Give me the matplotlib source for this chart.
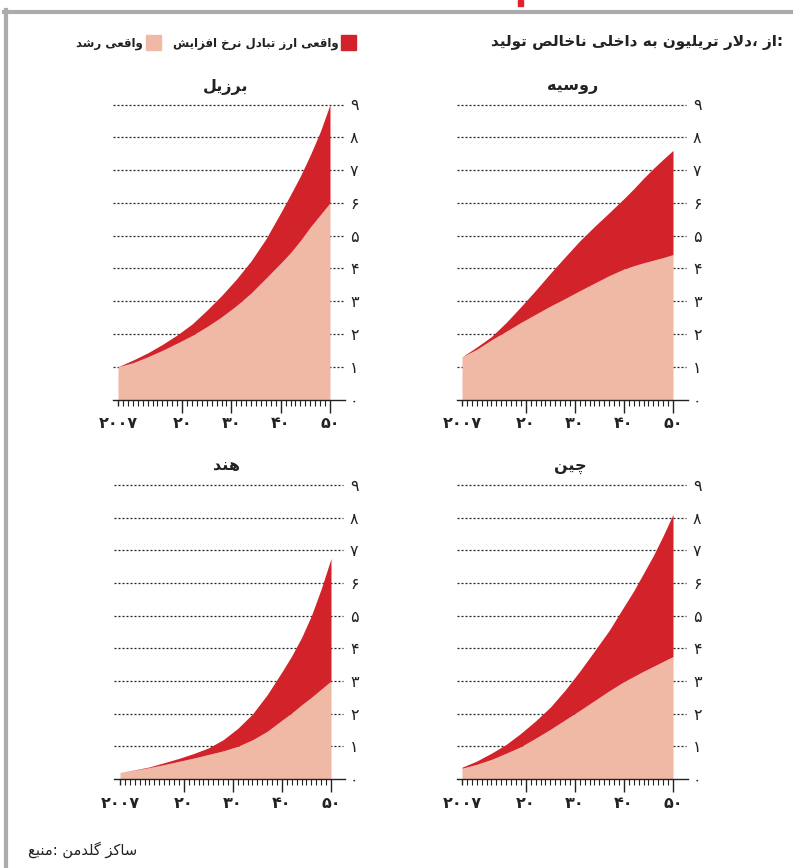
import matplotlib
matplotlib.use("Agg")
import matplotlib.pyplot as plt
from matplotlib.patches import Rectangle
from matplotlib.lines import Line2D

plt.rcParams['font.family'] = ['DejaVu Sans']

# data (trillion dollars)
years = [2007, 2010, 2013, 2016, 2019, 2022, 2025, 2028, 2031, 2034, 2037,
         2040, 2042, 2044, 2046, 2048, 2050]

brazil_real = [1.0, 1.12, 1.3, 1.5, 1.72, 1.95, 2.22, 2.52, 2.86, 3.25, 3.7,
               4.16, 4.48, 4.85, 5.26, 5.63, 6.0]
brazil_total = [1.0, 1.2, 1.42, 1.68, 1.97, 2.3, 2.72, 3.17, 3.67, 4.23, 4.9,
                5.7, 6.25, 6.82, 7.46, 8.16, 9.0]

russia_real = [1.3, 1.53, 1.82, 2.08, 2.35, 2.6, 2.85, 3.08, 3.32, 3.55, 3.78,
               3.98, 4.08, 4.17, 4.25, 4.33, 4.42]
russia_total = [1.3, 1.6, 1.92, 2.35, 2.83, 3.33, 3.85, 4.35, 4.84, 5.28, 5.7,
                6.13, 6.43, 6.75, 7.05, 7.33, 7.6]

india_real = [0.2, 0.27, 0.35, 0.44, 0.54, 0.64, 0.75, 0.86, 1.0, 1.2, 1.46,
              1.8, 2.02, 2.27, 2.5, 2.75, 3.0]
india_total = [0.2, 0.28, 0.37, 0.5, 0.63, 0.78, 0.95, 1.2, 1.55, 1.99, 2.58,
               3.28, 3.77, 4.33, 5.0, 5.82, 6.75]

china_real = [0.33, 0.45, 0.6, 0.79, 0.99, 1.25, 1.52, 1.81, 2.1, 2.4, 2.7,
              2.98, 3.14, 3.3, 3.45, 3.6, 3.75]
china_total = [0.36, 0.55, 0.79, 1.06, 1.4, 1.78, 2.2, 2.72, 3.3, 3.92, 4.55,
               5.28, 5.76, 6.3, 6.84, 7.45, 8.1]

x_ticks = [2007, 2020, 2030, 2040, 2050]
x_labels = ['۲۰۰۷', '۲۰', '۳۰', '۴۰', '۵۰']
y_ticks = list(range(10))
y_labels = ['۰', '۱', '۲', '۳', '۴', '۵', '۶', '۷', '۸', '۹']

title_text = 'تولید ناخالص داخلی به تریلیون دلار، از:'
legend_fx = 'افزایش نرخ تبادل ارز واقعی'
legend_real = 'رشد واقعی'
source_text = 'منبع: گلدمن ساکز'

RED = '#d2232a'
PINK = '#f0b9a6'
GRAY = '#a9abae'

# --- simple persian shaping (matplotlib has no complex text layout) ---
FORMS = {
    'ا': ('\uFE8D', '\uFE8E', None, None),
    'ب': ('\uFE8F', '\uFE90', '\uFE91', '\uFE92'),
    'ت': ('\uFE95', '\uFE96', '\uFE97', '\uFE98'),
    'ج': ('\uFE9D', '\uFE9E', '\uFE9F', '\uFEA0'),
    'چ': ('\uFB7A', '\uFB7B', '\uFB7C', '\uFB7D'),
    'ح': ('\uFEA1', '\uFEA2', '\uFEA3', '\uFEA4'),
    'خ': ('\uFEA5', '\uFEA6', '\uFEA7', '\uFEA8'),
    'د': ('\uFEA9', '\uFEAA', None, None),
    'ر': ('\uFEAD', '\uFEAE', None, None),
    'ز': ('\uFEAF', '\uFEB0', None, None),
    'س': ('\uFEB1', '\uFEB2', '\uFEB3', '\uFEB4'),
    'ش': ('\uFEB5', '\uFEB6', '\uFEB7', '\uFEB8'),
    'ص': ('\uFEB9', '\uFEBA', '\uFEBB', '\uFEBC'),
    'ع': ('\uFEC9', '\uFECA', '\uFECB', '\uFECC'),
    'ف': ('\uFED1', '\uFED2', '\uFED3', '\uFED4'),
    'ق': ('\uFED5', '\uFED6', '\uFED7', '\uFED8'),
    'ک': ('\uFB8E', '\uFB8F', '\uFB90', '\uFB91'),
    'گ': ('\uFB92', '\uFB93', '\uFB94', '\uFB95'),
    'ل': ('\uFEDD', '\uFEDE', '\uFEDF', '\uFEE0'),
    'م': ('\uFEE1', '\uFEE2', '\uFEE3', '\uFEE4'),
    'ن': ('\uFEE5', '\uFEE6', '\uFEE7', '\uFEE8'),
    'ه': ('\uFEE9', '\uFEEA', '\uFEEB', '\uFEEC'),
    'و': ('\uFEED', '\uFEEE', None, None),
    'ی': ('\uFBFC', '\uFBFD', '\uFBFE', '\uFBFF'),
}


def shape_word(word):
    out = []
    i = 0
    n = len(word)
    while i < n:
        ch = word[i]
        if ch not in FORMS:
            out.append(ch)
            i += 1
            continue
        prev = word[i - 1] if i > 0 else None
        joins_prev = prev in FORMS and FORMS[prev][2] is not None
        # lam + alef ligature
        if ch == 'ل' and i + 1 < n and word[i + 1] == 'ا':
            out.append('\uFEFC' if joins_prev else '\uFEFB')
            i += 2
            continue
        nxt = word[i + 1] if i + 1 < n else None
        joins_next = FORMS[ch][2] is not None and nxt in FORMS
        iso, fin, ini, med = FORMS[ch]
        if joins_prev and joins_next:
            out.append(med)
        elif joins_prev:
            out.append(fin)
        elif joins_next:
            out.append(ini)
        else:
            out.append(iso)
        i += 1
    return ''.join(reversed(out))


def fa(text):
    # words keep their left-to-right order as in the original print
    words = []
    for w in text.split(' '):
        tail = ''
        while w and w[-1] in '،:':
            tail = w[-1] + tail
            w = w[:-1]
        words.append(shape_word(w) + tail)
    return ' '.join(words)


W, H = 793, 868
fig = plt.figure(figsize=(W / 100, H / 100), dpi=100)


def fx(x):
    return x / W


def fy(y):
    return 1 - y / H


# panel geometry in pixels: grid left/right, 2007/2050 positions, y of 0 and 9
panels = [
    ('برزیل', brazil_real, brazil_total, 113, 343, 118, 330, 399.5, 104.5, 226, 87),
    ('روسیه', russia_real, russia_total, 457, 686, 462, 673, 399.5, 104.5, 573, 87),
    ('هند', india_real, india_total, 114, 343, 120, 331, 779, 485, 226, 466),
    ('چین', china_real, china_total, 457, 686, 462, 673, 779, 485, 570, 467),
]

for name, real, total, L, R, x0, x1, y0, y9, tx, ty in panels:
    ax = fig.add_axes([fx(L), fy(y0), (R - L) / W, (y0 - y9) / H])
    s = (x1 - x0) / 43.0
    ax.set_xlim(2007 - (x0 - L) / s, 2050 + (R - x1) / s)
    ax.set_ylim(0, 9)

    # dotted grid lines behind the areas
    for v in range(1, 10):
        ax.axhline(v, color='#222222', lw=0.9, ls=(0, (1.6, 1.6)), zorder=1, clip_on=False)

    ax.fill_between(years, 0, real, color=PINK, lw=0, zorder=2)
    ax.fill_between(years, real, total, color=RED, lw=0, zorder=2)

    for sp in ['top', 'left', 'right']:
        ax.spines[sp].set_visible(False)
    ax.spines['bottom'].set_color('#222222')
    ax.spines['bottom'].set_linewidth(1.0)
    ax.spines['bottom'].set_bounds(ax.get_xlim()[0], ax.get_xlim()[1] + 0.4)

    ax.set_xticks(x_ticks)
    ax.set_xticklabels(x_labels, fontsize=11.5, fontweight='bold', color='#222222')
    ax.set_xticks(range(2007, 2051), minor=True)
    ax.tick_params(axis='x', which='major', direction='out', length=9, width=1.0,
                   color='#222222', pad=3)
    ax.tick_params(axis='x', which='minor', direction='out', length=4.5, width=0.8,
                   color='#222222')
    ax.xaxis.get_major_ticks()[0].tick1line.set_markersize(4.5)

    ax.yaxis.tick_right()
    ax.set_yticks(y_ticks)
    ax.set_yticklabels(y_labels, fontsize=11.5, color='#222222')
    ax.tick_params(axis='y', which='both', length=0, pad=5)

    fig.text(fx(tx), fy(ty), fa(name), ha='center', va='center',
             fontsize=11.5, fontweight='bold', color='#222222')

# header and legend
fig.text(fx(783), fy(43), fa(title_text), ha='right', va='center',
         fontsize=11, fontweight='bold', color='#222222')
fig.patches.append(Rectangle((fx(341), fy(50)), 15 / W, 15 / H, color=RED,
                             transform=fig.transFigure, figure=fig))
fig.text(fx(339), fy(44), fa(legend_fx), ha='right', va='center',
         fontsize=8.5, fontweight='bold', color='#222222')
fig.patches.append(Rectangle((fx(146), fy(50)), 15 / W, 15 / H, color=PINK,
                             transform=fig.transFigure, figure=fig))
fig.text(fx(143), fy(44), fa(legend_real), ha='right', va='center',
         fontsize=8.5, fontweight='bold', color='#222222')

fig.text(fx(28), fy(850), fa(source_text), ha='left', va='center',
         fontsize=10.5, color='#222222')

# frame lines and small red mark at the top
fig.lines.append(Line2D([fx(4), 1], [fy(11.5), fy(11.5)], color=GRAY, lw=3,
                        transform=fig.transFigure, figure=fig))
fig.lines.append(Line2D([fx(6), fx(6)], [fy(10), 0], color=GRAY, lw=3,
                        transform=fig.transFigure, figure=fig))
fig.patches.append(Rectangle((fx(518), fy(6)), 5 / W, 6 / H, color='#e0202a',
                             transform=fig.transFigure, figure=fig))

fig.savefig('out.png', dpi=100)
